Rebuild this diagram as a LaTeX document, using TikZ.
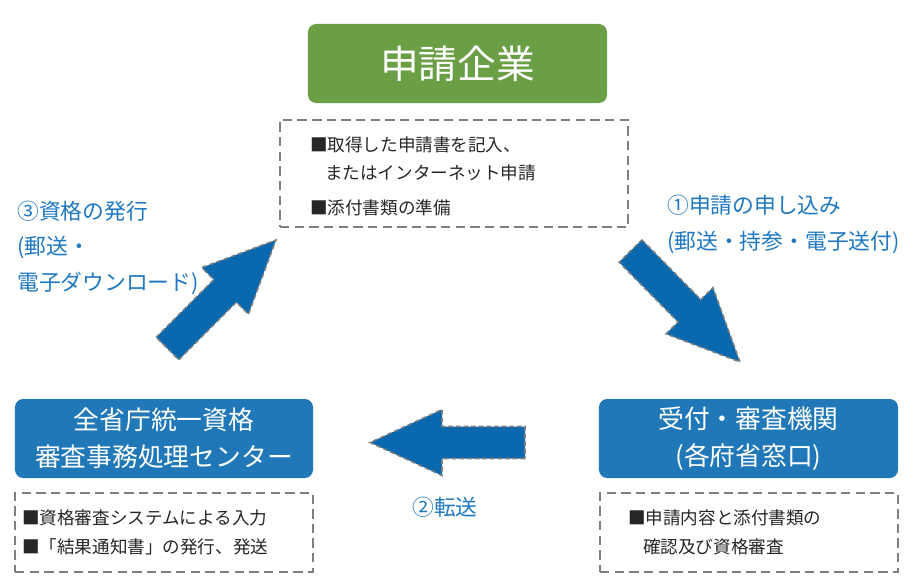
\documentclass[tikz,border=0pt]{standalone}
\usepackage{fontspec}
\setmainfont{Noto Sans CJK JP}
\usetikzlibrary{calc}
\definecolor{leaf}{HTML}{6A9F46}
\definecolor{office}{HTML}{2178B8}
\definecolor{flowblue}{HTML}{0A68AF}
\definecolor{stepblue}{HTML}{1F78C0}
\definecolor{edge}{HTML}{7F7F7F}
\definecolor{ink}{HTML}{262626}
\tikzset{
  head/.style={fill=leaf, rounded corners=7pt, text=white, minimum width=8.97cm, minimum height=2.37cm, font=\fontsize{33}{38}\selectfont},
  unit/.style={fill=office, rounded corners=7pt, text=white, align=center, minimum width=8.94cm, minimum height=2.37cm, font=\fontsize{22}{31.6}\selectfont},
  memo/.style={draw=edge, line width=1.6pt, dash pattern=on 8pt off 4.5pt},
  item/.style={text=ink, inner sep=0pt, anchor=west, font=\fontsize{15}{17}\selectfont},
  stepnote/.style={text=stepblue, inner sep=0pt, anchor=west, font=\fontsize{18.6}{21}\selectfont},
  flow/.style={fill=flowblue, draw=edge, line width=1.3pt, dash pattern=on 4pt off 2.5pt, line join=miter},
}
% block arrow from tail (#1) to tip (#2)
\newcommand{\blockarrow}[2]{%
  \coordinate (hb) at ($(#2)!2.16cm!(#1)$);
  \draw[flow] ($(#1)!0.48cm!90:(#2)$) -- ($(hb)!0.48cm!90:(#2)$) -- ($(hb)!0.99cm!90:(#2)$)
    -- (#2) -- ($(hb)!0.99cm!-90:(#2)$) -- ($(hb)!0.48cm!-90:(#2)$) -- ($(#1)!0.48cm!-90:(#2)$) -- cycle;}

\begin{document}
\begin{tikzpicture}[x=0.03cm, y=-0.03cm]
  \useasboundingbox (0,0) rectangle (916,584);
  % boxes
  \node[head] (firm) at (457.5,63.5) {申請企業};
  \node[memo, minimum width=10.44cm, minimum height=3.21cm] (firmmemo) at (454,173.5) {};
  \node[unit] (center) at (164,438.5) {全省庁統一資格\\審査事務処理センター};
  \node[memo, minimum width=8.94cm, minimum height=2.37cm] (centermemo) at (164,532.5) {};
  \node[unit, minimum width=8.97cm] (desk) at (748.5,438.5) {受付・審査機関\\(各府省窓口)};
  \node[memo, minimum width=8.94cm, minimum height=2.37cm] (deskmemo) at (749,532.5) {};
  % memo texts
  \node[item] (f1) at (310,145) {■取得した申請書を記入、};
  \node[item] (f2) at (325,173) {またはインターネット申請};
  \node[item] (f3) at (310,208) {■添付書類の準備};
  \node[item] (c1) at (22,518) {■資格審査システムによる入力};
  \node[item] (c2) at (22,547) {■「結果通知書」の発行、発送};
  \node[item] (d1) at (628,518) {■申請内容と添付書類の};
  \node[item] (d2) at (643,547) {確認及び資格審査};
  % big arrows
  \coordinate (issueT) at (167.5,348.5);
  \coordinate (issueP) at (276,240);
  \coordinate (applyT) at (630.5,251);
  \coordinate (applyP) at (740,362);
  \coordinate (sendT) at (525,442.5);
  \coordinate (sendP) at (370,442.5);
  \blockarrow{issueT}{issueP}
  \blockarrow{applyT}{applyP}
  \blockarrow{sendT}{sendP}
  % step labels
  \node[stepnote] (issue1) at (17,211) {③資格の発行};
  \node[stepnote] (issue2) at (17,247) {(郵送・};
  \node[stepnote] (issue3) at (17,283) {電子ダウンロード)};
  \node[stepnote] (apply1) at (667,205) {①申請の申し込み};
  \node[stepnote] (apply2) at (667,242) {(郵送・持参・電子送付)};
  \node[stepnote, anchor=center] (send1) at (445,507) {②転送};
\end{tikzpicture}
\end{document}
